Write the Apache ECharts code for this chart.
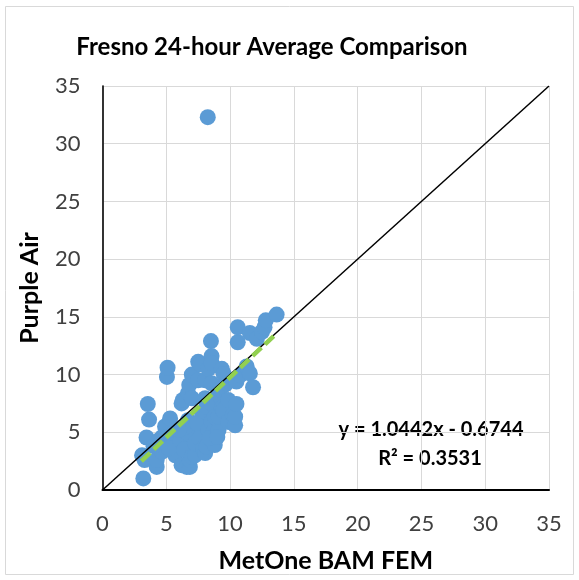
<!DOCTYPE html>
<html>
<head>
<meta charset="utf-8">
<script src="https://cdn.jsdelivr.net/npm/echarts@6/dist/echarts.min.js"></script>
<style>
  html, body { margin: 0; padding: 0; background: #fff; }
  #chart { width: 579px; height: 580px; }
</style>
</head>
<body>
<div id="chart"></div>
<script>
// MetOne BAM FEM (x) vs Purple Air (y), 24-hour averages
const points = [
  [3.2, 1.0], [3.1, 3.0], [3.3, 2.6], [3.45, 4.55], [3.65, 6.1], [3.55, 7.45],
  [4.25, 2.0], [4.25, 2.6], [4.65, 3.3], [4.4, 4.3], [4.0, 3.8], [4.9, 5.5], [4.7, 4.6],
  [5.05, 9.8], [5.1, 10.6], [5.3, 6.2], [5.7, 3.0], [5.5, 4.2], [5.2, 3.6],
  [6.1, 4.3], [6.2, 7.5], [6.3, 7.8], [6.2, 2.15], [6.6, 2.0], [6.85, 2.0], [6.85, 2.6],
  [6.7, 4.9], [6.7, 6.05], [6.7, 8.4], [6.8, 9.1], [6.5, 5.5], [6.0, 5.2], [6.4, 3.5],
  [7.0, 2.9], [7.0, 7.95], [7.0, 10.0], [7.25, 3.0], [7.25, 4.05], [7.5, 9.5], [7.5, 11.1],
  [7.65, 10.9], [7.8, 5.2], [7.8, 6.65], [7.6, 4.5], [7.4, 5.8], [7.9, 3.6],
  [8.05, 3.2], [8.05, 7.95], [8.05, 6.8], [8.05, 9.5], [8.15, 3.75], [8.15, 7.2], [8.25, 32.3],
  [8.3, 5.2], [8.3, 10.5], [8.5, 12.9], [8.55, 11.6], [8.55, 11.0], [8.55, 9.25], [8.55, 7.5],
  [8.55, 5.9], [8.7, 5.05], [8.8, 3.9], [8.8, 6.35], [8.4, 4.5],
  [9.1, 5.2], [9.1, 6.35], [9.1, 8.5], [9.35, 7.8], [9.35, 7.1], [9.35, 10.5], [9.45, 6.9],
  [9.5, 10.05], [9.6, 9.1], [9.2, 8.7], [9.0, 4.6],
  [9.85, 7.8], [9.85, 5.9], [9.7, 9.25], [10.25, 6.5], [10.25, 5.8], [10.4, 5.6], [10.4, 6.35],
  [10.5, 7.45], [10.5, 9.4], [10.8, 9.95], [10.6, 12.8], [10.6, 14.1],
  [11.3, 10.7], [11.55, 10.1], [11.55, 13.6], [11.8, 8.9], [12.1, 13.1], [12.5, 13.7],
  [12.7, 14.1], [12.8, 14.7], [13.65, 15.2]
];

// linear trendline from the chart's label
const trendCoef = [1.0442, -0.6744];   // slope, intercept
const trendX = [3.05, 13.65];
const oneToOne = [[0, 0], [35, 35]];

const trendLine = trendX.map(x => [x, trendCoef[0] * x + trendCoef[1]]);

const chart = echarts.init(document.getElementById('chart'));
const font = 'Lato, "Open Sans", sans-serif';

const option = {
  animation: false,
  backgroundColor: '#fff',
  title: {
    text: 'Fresno 24-hour Average Comparison',
    left: 267,
    top: 30,
    textAlign: 'center',
    textStyle: { fontFamily: font, fontSize: 24, fontWeight: 'bold', color: '#000' }
  },
  grid: { left: 102.5, right: 30, top: 86, bottom: 90 },
  xAxis: [
    {
      type: 'value', min: 0, max: 35, interval: 5,
      name: 'MetOne BAM FEM', nameLocation: 'middle', nameGap: 58,
      nameTextStyle: { fontFamily: font, fontSize: 25, fontWeight: 'bold', color: '#000' },
      axisLine: { lineStyle: { color: '#bfbfbf', width: 1.5 } },
      axisTick: { show: false },
      axisLabel: { fontFamily: font, fontSize: 22, color: '#404040', margin: 23 },
      splitLine: { lineStyle: { color: '#d9d9d9', width: 1 } }
    },
    {
      type: 'value', min: 0, max: 35, position: 'top',
      axisLine: { show: true, lineStyle: { color: '#000', width: 2 } },
      axisTick: { show: false }, axisLabel: { show: false }, splitLine: { show: false }
    }
  ],
  yAxis: [
    {
      type: 'value', min: 0, max: 35, interval: 5,
      name: 'Purple Air', nameLocation: 'middle', nameGap: 60,
      nameTextStyle: { fontFamily: font, fontSize: 25, fontWeight: 'bold', color: '#000' },
      axisLine: { show: true, lineStyle: { color: '#bfbfbf', width: 1.5 } },
      axisTick: { show: false },
      axisLabel: { fontFamily: font, fontSize: 22, color: '#404040', margin: 22 },
      splitLine: { lineStyle: { color: '#d9d9d9', width: 1 } }
    },
    {
      type: 'value', min: 0, max: 35, position: 'right',
      axisLine: { show: true, lineStyle: { color: '#000', width: 1.5 } },
      axisTick: { show: false }, axisLabel: { show: false }, splitLine: { show: false }
    }
  ],
  series: [
    {
      type: 'scatter',
      data: points,
      symbolSize: 16,
      itemStyle: { color: '#5b9bd5', opacity: 1 },
      z: 2
    },
    {
      type: 'line',
      data: oneToOne,
      symbol: 'none',
      lineStyle: { color: '#000', width: 1.5 },
      z: 3
    },
    {
      type: 'line',
      data: trendLine,
      symbol: 'none',
      lineStyle: { color: '#92d050', width: 4.5, type: [12, 5] },
      z: 4
    }
  ],
  graphic: [
    {
      type: 'rect', shape: { x: 5.5, y: 6.5, width: 568, height: 568 },
      style: { fill: 'none', stroke: '#d9d9d9', lineWidth: 1 }, silent: true
    },
    {
      type: 'text', x: 431, y: 430,
      style: { text: 'y = 1.0442x - 0.6744', fontFamily: font, fontSize: 20, fontWeight: 'bold', fill: '#000', align: 'center', verticalAlign: 'middle' }
    },
    {
      type: 'text', x: 430, y: 459,
      style: { text: 'R² = 0.3531', fontFamily: font, fontSize: 20, fontWeight: 'bold', fill: '#000', align: 'center', verticalAlign: 'middle' }
    }
  ]
};

chart.setOption(option);
</script>
</body>
</html>
